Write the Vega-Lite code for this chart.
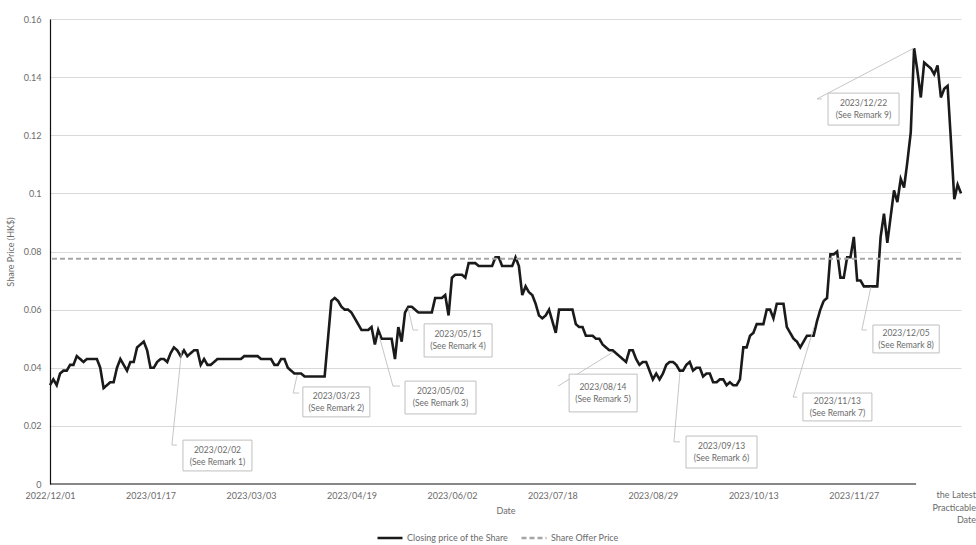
{
  "$schema": "https://vega.github.io/schema/vega-lite/v6.json",
  "width": 911,
  "height": 465,
  "autosize": {"type": "none"},
  "padding": {"left": 50, "top": 19, "right": 15, "bottom": 61},
  "background": "white",
  "config": {
    "view": {"stroke": null},
    "font": "Lato",
    "axis": {"labelFont": "Lato", "labelColor": "#6b6b6b", "labelFontSize": 9, "titleFont": "Lato", "titleFontWeight": "normal", "titleFontSize": 9, "titleColor": "#6b6b6b", "ticks": false},
    "legend": {"labelFont": "Lato", "labelFontSize": 9, "labelColor": "#6b6b6b"}
  },
  "datasets": {
    "price": [
      {"i":0,"p":0.034},{"i":1,"p":0.036},{"i":2,"p":0.034},{"i":3,"p":0.038},{"i":4,"p":0.039},{"i":5,"p":0.039},{"i":6,"p":0.041},{"i":7,"p":0.041},{"i":8,"p":0.044},{"i":9,"p":0.043},
      {"i":10,"p":0.042},{"i":11,"p":0.043},{"i":12,"p":0.043},{"i":13,"p":0.043},{"i":14,"p":0.043},{"i":15,"p":0.040},{"i":16,"p":0.033},{"i":17,"p":0.034},{"i":18,"p":0.035},{"i":19,"p":0.035},
      {"i":20,"p":0.040},{"i":21,"p":0.043},{"i":22,"p":0.041},{"i":23,"p":0.039},{"i":24,"p":0.042},{"i":25,"p":0.042},{"i":26,"p":0.047},{"i":27,"p":0.048},{"i":28,"p":0.049},{"i":29,"p":0.046},
      {"i":30,"p":0.040},{"i":31,"p":0.040},{"i":32,"p":0.042},{"i":33,"p":0.043},{"i":34,"p":0.043},{"i":35,"p":0.042},{"i":36,"p":0.045},{"i":37,"p":0.047},{"i":38,"p":0.046},{"i":39,"p":0.044},
      {"i":40,"p":0.046},{"i":41,"p":0.044},{"i":42,"p":0.045},{"i":43,"p":0.046},{"i":44,"p":0.046},{"i":45,"p":0.041},{"i":46,"p":0.043},{"i":47,"p":0.041},{"i":48,"p":0.041},{"i":49,"p":0.042},
      {"i":50,"p":0.043},{"i":51,"p":0.043},{"i":52,"p":0.043},{"i":53,"p":0.043},{"i":54,"p":0.043},{"i":55,"p":0.043},{"i":56,"p":0.043},{"i":57,"p":0.043},{"i":58,"p":0.044},{"i":59,"p":0.044},
      {"i":60,"p":0.044},{"i":61,"p":0.044},{"i":62,"p":0.044},{"i":63,"p":0.043},{"i":64,"p":0.043},{"i":65,"p":0.043},{"i":66,"p":0.043},{"i":67,"p":0.041},{"i":68,"p":0.041},{"i":69,"p":0.043},
      {"i":70,"p":0.043},{"i":71,"p":0.040},{"i":72,"p":0.039},{"i":73,"p":0.038},{"i":74,"p":0.038},{"i":75,"p":0.038},{"i":76,"p":0.037},{"i":77,"p":0.037},{"i":78,"p":0.037},{"i":79,"p":0.037},
      {"i":80,"p":0.037},{"i":81,"p":0.037},{"i":82,"p":0.037},{"i":83,"p":0.050},{"i":84,"p":0.063},{"i":85,"p":0.064},{"i":86,"p":0.063},{"i":87,"p":0.061},{"i":88,"p":0.060},{"i":89,"p":0.060},
      {"i":90,"p":0.059},{"i":91,"p":0.057},{"i":92,"p":0.055},{"i":93,"p":0.053},{"i":94,"p":0.053},{"i":95,"p":0.053},{"i":96,"p":0.054},{"i":97,"p":0.048},{"i":98,"p":0.053},{"i":99,"p":0.050},
      {"i":100,"p":0.050},{"i":101,"p":0.050},{"i":102,"p":0.050},{"i":103,"p":0.043},{"i":104,"p":0.054},{"i":105,"p":0.049},{"i":106,"p":0.059},{"i":107,"p":0.061},{"i":108,"p":0.061},{"i":109,"p":0.060},
      {"i":110,"p":0.059},{"i":111,"p":0.059},{"i":112,"p":0.059},{"i":113,"p":0.059},{"i":114,"p":0.059},{"i":115,"p":0.064},{"i":116,"p":0.064},{"i":117,"p":0.064},{"i":118,"p":0.065},{"i":119,"p":0.058},
      {"i":120,"p":0.071},{"i":121,"p":0.072},{"i":122,"p":0.072},{"i":123,"p":0.072},{"i":124,"p":0.071},{"i":125,"p":0.076},{"i":126,"p":0.076},{"i":127,"p":0.076},{"i":128,"p":0.075},{"i":129,"p":0.075},
      {"i":130,"p":0.075},{"i":131,"p":0.075},{"i":132,"p":0.075},{"i":133,"p":0.078},{"i":134,"p":0.078},{"i":135,"p":0.075},{"i":136,"p":0.075},{"i":137,"p":0.075},{"i":138,"p":0.075},{"i":139,"p":0.078},
      {"i":140,"p":0.075},{"i":141,"p":0.065},{"i":142,"p":0.068},{"i":143,"p":0.066},{"i":144,"p":0.065},{"i":145,"p":0.062},{"i":146,"p":0.058},{"i":147,"p":0.057},{"i":148,"p":0.058},{"i":149,"p":0.060},
      {"i":150,"p":0.056},{"i":151,"p":0.052},{"i":152,"p":0.060},{"i":153,"p":0.060},{"i":154,"p":0.060},{"i":155,"p":0.060},{"i":156,"p":0.060},{"i":157,"p":0.055},{"i":158,"p":0.054},{"i":159,"p":0.054},
      {"i":160,"p":0.051},{"i":161,"p":0.051},{"i":162,"p":0.051},{"i":163,"p":0.050},{"i":164,"p":0.050},{"i":165,"p":0.048},{"i":166,"p":0.047},{"i":167,"p":0.046},{"i":168,"p":0.046},{"i":169,"p":0.045},
      {"i":170,"p":0.044},{"i":171,"p":0.043},{"i":172,"p":0.042},{"i":173,"p":0.046},{"i":174,"p":0.046},{"i":175,"p":0.043},{"i":176,"p":0.041},{"i":177,"p":0.042},{"i":178,"p":0.042},{"i":179,"p":0.039},
      {"i":180,"p":0.036},{"i":181,"p":0.038},{"i":182,"p":0.036},{"i":183,"p":0.038},{"i":184,"p":0.041},{"i":185,"p":0.042},{"i":186,"p":0.042},{"i":187,"p":0.041},{"i":188,"p":0.039},{"i":189,"p":0.039},
      {"i":190,"p":0.041},{"i":191,"p":0.042},{"i":192,"p":0.039},{"i":193,"p":0.040},{"i":194,"p":0.040},{"i":195,"p":0.037},{"i":196,"p":0.038},{"i":197,"p":0.038},{"i":198,"p":0.035},{"i":199,"p":0.035},
      {"i":200,"p":0.036},{"i":201,"p":0.036},{"i":202,"p":0.034},{"i":203,"p":0.035},{"i":204,"p":0.034},{"i":205,"p":0.034},{"i":206,"p":0.036},{"i":207,"p":0.047},{"i":208,"p":0.047},{"i":209,"p":0.051},
      {"i":210,"p":0.052},{"i":211,"p":0.055},{"i":212,"p":0.055},{"i":213,"p":0.055},{"i":214,"p":0.060},{"i":215,"p":0.060},{"i":216,"p":0.057},{"i":217,"p":0.062},{"i":218,"p":0.062},{"i":219,"p":0.062},
      {"i":220,"p":0.054},{"i":221,"p":0.052},{"i":222,"p":0.050},{"i":223,"p":0.049},{"i":224,"p":0.047},{"i":225,"p":0.049},{"i":226,"p":0.051},{"i":227,"p":0.051},{"i":228,"p":0.051},{"i":229,"p":0.056},
      {"i":230,"p":0.060},{"i":231,"p":0.063},{"i":232,"p":0.064},{"i":233,"p":0.079},{"i":234,"p":0.079},{"i":235,"p":0.080},{"i":236,"p":0.071},{"i":237,"p":0.071},{"i":238,"p":0.078},{"i":239,"p":0.078},
      {"i":240,"p":0.085},{"i":241,"p":0.070},{"i":242,"p":0.070},{"i":243,"p":0.068},{"i":244,"p":0.068},{"i":245,"p":0.068},{"i":246,"p":0.068},{"i":247,"p":0.068},{"i":248,"p":0.085},{"i":249,"p":0.093},
      {"i":250,"p":0.083},{"i":251,"p":0.092},{"i":252,"p":0.101},{"i":253,"p":0.097},{"i":254,"p":0.105},{"i":255,"p":0.102},{"i":256,"p":0.111},{"i":257,"p":0.121},{"i":258,"p":0.150},{"i":259,"p":0.142},
      {"i":260,"p":0.133},{"i":261,"p":0.145},{"i":262,"p":0.144},{"i":263,"p":0.143},{"i":264,"p":0.141},{"i":265,"p":0.144},{"i":266,"p":0.133},{"i":267,"p":0.136},{"i":268,"p":0.137},{"i":269,"p":0.118},
      {"i":270,"p":0.098},{"i":271,"p":0.103},{"i":272,"p":0.100}
    ],
    "leaders": [
      {"r":1,"o":0,"i":39.3,"p":0.0461},{"r":1,"o":1,"i":36.4,"p":0.0134},{"r":1,"o":2,"i":37.9,"p":0.0134},
      {"r":2,"o":0,"i":73.8,"p":0.0375},{"r":2,"o":1,"i":72.6,"p":0.0313},{"r":2,"o":2,"i":74.4,"p":0.0313},
      {"r":3,"o":0,"i":98.2,"p":0.0513},{"r":3,"o":1,"i":102.4,"p":0.0337},{"r":3,"o":2,"i":104.5,"p":0.0337},
      {"r":4,"o":0,"i":106.9,"p":0.0606},{"r":4,"o":1,"i":108.4,"p":0.0530},{"r":4,"o":2,"i":109.9,"p":0.0530},
      {"r":5,"o":0,"i":168.1,"p":0.0454},{"r":5,"o":1,"i":151.7,"p":0.0337},
      {"r":6,"o":0,"i":188.1,"p":0.0385},{"r":6,"o":1,"i":186.3,"p":0.0145},{"r":6,"o":2,"i":188.1,"p":0.0145},
      {"r":7,"o":0,"i":228.1,"p":0.0540},{"r":7,"o":1,"i":221.9,"p":0.0299},{"r":7,"o":2,"i":223.1,"p":0.0299},
      {"r":8,"o":0,"i":245.1,"p":0.0678},{"r":8,"o":1,"i":242.4,"p":0.0530},{"r":8,"o":2,"i":243.9,"p":0.0530},
      {"r":9,"o":0,"i":258.0,"p":0.1500},{"r":9,"o":1,"i":229.0,"p":0.1325},{"r":9,"o":2,"i":230.5,"p":0.1325}
    ],
    "boxes": [
      {"r":1,"i":39.7,"i2":60.3,"p":0.0045,"p2":0.0151,"ci":50.0,"cp":0.0098,"d":"2023/02/02","n":"(See Remark 1)"},
      {"r":2,"i":75.5,"i2":95.5,"p":0.0231,"p2":0.0334,"ci":85.5,"cp":0.0282,"d":"2023/03/23","n":"(See Remark 2)"},
      {"r":3,"i":106.0,"i2":127.2,"p":0.0241,"p2":0.0354,"ci":116.6,"cp":0.0298,"d":"2023/05/02","n":"(See Remark 3)"},
      {"r":4,"i":111.7,"i2":132.0,"p":0.0437,"p2":0.0551,"ci":121.8,"cp":0.0494,"d":"2023/05/15","n":"(See Remark 4)"},
      {"r":5,"i":155.0,"i2":175.3,"p":0.0248,"p2":0.0378,"ci":165.1,"cp":0.0313,"d":"2023/08/14","n":"(See Remark 5)"},
      {"r":6,"i":189.9,"i2":211.1,"p":0.0055,"p2":0.0165,"ci":200.5,"cp":0.0110,"d":"2023/09/13","n":"(See Remark 6)"},
      {"r":7,"i":224.8,"i2":245.4,"p":0.0217,"p2":0.0313,"ci":235.1,"cp":0.0265,"d":"2023/11/13","n":"(See Remark 7)"},
      {"r":8,"i":245.7,"i2":265.5,"p":0.0451,"p2":0.0547,"ci":255.6,"cp":0.0499,"d":"2023/12/05","n":"(See Remark 8)"},
      {"r":9,"i":232.3,"i2":253.5,"p":0.1235,"p2":0.1345,"ci":242.9,"cp":0.1290,"d":"2023/12/22","n":"(See Remark 9)"}
    ]
  },
  "layer": [
    {
      "data": {"name": "price"},
      "mark": {"type": "line", "strokeWidth": 2.6, "strokeJoin": "miter", "strokeCap": "butt"},
      "encoding": {
        "x": {"field": "i", "type": "quantitative", "title": "Date",
          "scale": {"domain": [0, 272], "nice": false, "zero": false},
          "axis": {"values": [0,30,60,90,120,150,180,210,240], "domain": false, "grid": false, "labelFlush": false, "labelPadding": 7, "titlePadding": 6,
            "labelExpr": "['2022/12/01','2023/01/17','2023/03/03','2023/04/19','2023/06/02','2023/07/18','2023/08/29','2023/10/13','2023/11/27'][round(datum.value/30)]"}},
        "y": {"field": "p", "type": "quantitative", "title": "Share Price (HK$)",
          "scale": {"domain": [0, 0.16], "nice": false},
          "axis": {"values": [0,0.02,0.04,0.06,0.08,0.1,0.12,0.14,0.16], "format": ".2~f", "domainColor": "#111111", "domainWidth": 1.2, "labelFlush": false,
            "gridColor": "#d9d9d9", "gridWidth": 1, "gridOpacity": {"condition": {"test": "datum.value === 0", "value": 0}, "value": 1},
            "labelPadding": 9, "titlePadding": 8}},
        "color": {"datum": "Closing price of the Share", "type": "nominal",
          "scale": {"domain": ["Closing price of the Share", "Share Offer Price"], "range": ["#1a1a1a", "#a6a6a6"]},
          "legend": {"title": null, "orient": "none", "legendX": 326, "legendY": 505, "direction": "horizontal", "symbolType": "stroke", "symbolSize": 625, "symbolStrokeWidth": 2.5, "columnPadding": 8, "labelOffset": 3}},
        "strokeDash": {"datum": "Closing price of the Share", "type": "nominal",
          "scale": {"domain": ["Closing price of the Share", "Share Offer Price"], "range": [[1, 0], [5, 3]]},
          "legend": {"title": null, "orient": "none", "legendX": 326, "legendY": 505, "direction": "horizontal", "symbolType": "stroke", "symbolSize": 625, "symbolStrokeWidth": 2.5, "columnPadding": 8, "labelOffset": 3}}
      }
    },
    {
      "data": {"values": [{"p": 0.0775}]},
      "mark": {"type": "rule", "strokeWidth": 2},
      "encoding": {
        "y": {"field": "p", "type": "quantitative", "title": "Share Price (HK$)"},
        "color": {"datum": "Share Offer Price", "type": "nominal"},
        "strokeDash": {"datum": "Share Offer Price", "type": "nominal"}
      }
    },
    {
      "data": {"name": "leaders"},
      "mark": {"type": "line", "stroke": "#bfbfbf", "strokeWidth": 0.9},
      "encoding": {
        "x": {"field": "i", "type": "quantitative", "title": "Date"},
        "y": {"field": "p", "type": "quantitative", "title": "Share Price (HK$)"},
        "detail": {"field": "r"},
        "order": {"field": "o"}
      }
    },
    {
      "data": {"name": "boxes"},
      "mark": {"type": "rect", "fill": "white", "stroke": "#bfbfbf", "strokeWidth": 1},
      "encoding": {
        "x": {"field": "i", "type": "quantitative", "title": "Date"},
        "x2": {"field": "i2"},
        "y": {"field": "p", "type": "quantitative", "title": "Share Price (HK$)"},
        "y2": {"field": "p2"}
      }
    },
    {
      "data": {"name": "boxes"},
      "mark": {"type": "text", "fontSize": 8.5, "color": "#6b6b6b", "dy": -6, "font": "Lato"},
      "encoding": {
        "x": {"field": "ci", "type": "quantitative", "title": "Date"},
        "y": {"field": "cp", "type": "quantitative", "title": "Share Price (HK$)"},
        "text": {"field": "d"}
      }
    },
    {
      "data": {"name": "boxes"},
      "mark": {"type": "text", "fontSize": 8.5, "color": "#6b6b6b", "dy": 6, "font": "Lato"},
      "encoding": {
        "x": {"field": "ci", "type": "quantitative", "title": "Date"},
        "y": {"field": "cp", "type": "quantitative", "title": "Share Price (HK$)"},
        "text": {"field": "n"}
      }
    },
    {
      "data": {"values": [{"i": 0, "i2": 258.6, "p": 0}]},
      "mark": {"type": "rule", "stroke": "#111111", "strokeWidth": 1.2},
      "encoding": {
        "x": {"field": "i", "type": "quantitative", "title": "Date"},
        "x2": {"field": "i2"},
        "y": {"field": "p", "type": "quantitative", "title": "Share Price (HK$)"}
      }
    },
    {
      "data": {"values": [{"i": 272, "p": 0}]},
      "mark": {"type": "text", "align": "right", "baseline": "top", "dx": 15, "dy": 7, "fontSize": 9, "lineHeight": 12.5, "color": "#6b6b6b", "font": "Lato"},
      "encoding": {
        "x": {"field": "i", "type": "quantitative", "title": "Date"},
        "y": {"field": "p", "type": "quantitative", "title": "Share Price (HK$)"},
        "text": {"value": ["the Latest", "Practicable", "Date"]}
      }
    }
  ]
}
